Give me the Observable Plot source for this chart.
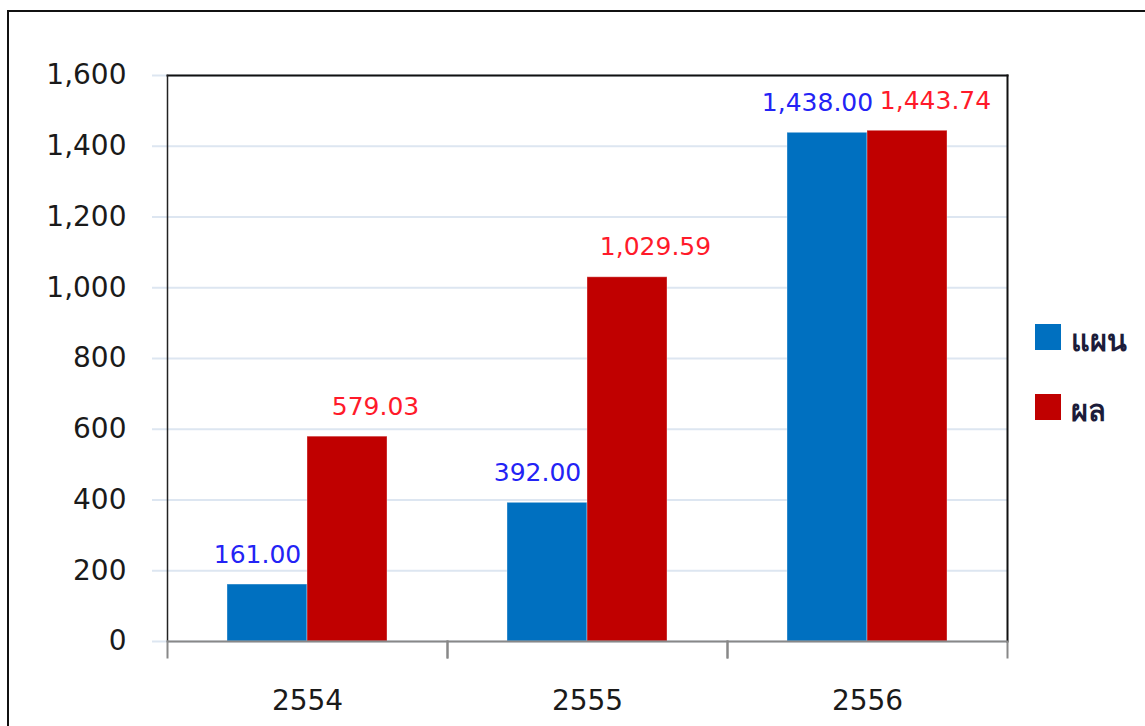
<!DOCTYPE html>
<html>
<head>
<meta charset="utf-8">
<script src="https://cdn.jsdelivr.net/npm/d3@7"></script>
<script src="https://cdn.jsdelivr.net/npm/@observablehq/plot@0.6"></script>
<style>
  body { margin: 0; background: #fff; font-family: "DejaVu Sans", sans-serif; }
  #wrap { position: relative; width: 1145px; height: 726px; overflow: hidden; background: #fff; }
  #border { position: absolute; left: 7px; top: 10px; width: 1300px; height: 900px; border: 2px solid #111; box-sizing: border-box; }
  #chart { position: absolute; left: 0; top: 0; }
  #legend { position: absolute; left: 1035px; top: 324px; }
  .item { display: flex; align-items: center; height: 26px; margin-bottom: 44px; }
  .swatch { width: 26px; height: 26px; margin-right: 10px; }
  .name { font-size: 29px; font-weight: bold; color: #1c1c3a; position: relative; top: 4px; }
</style>
</head>
<body>
<div id="wrap">
  <div id="border"></div>
  <div id="chart"></div>
  <div id="legend"></div>
</div>
<script>
// Budget plan vs. actual, by fiscal year
const years = ["2554", "2555", "2556"];
const series = ["แผน", "ผล"];
const plan = [161.00, 392.00, 1438.00];
const actual = [579.03, 1029.59, 1443.74];
const barColors = ["#0070C0", "#C00000"];
const labelColors = ["#2323f5", "#ff1a2a"];
const yTicks = [0, 200, 400, 600, 800, 1000, 1200, 1400, 1600];

const rows = years.flatMap((year, i) => [
  {year, series: series[0], value: plan[i]},
  {year, series: series[1], value: actual[i]}
]);
const planRows = rows.filter(d => d.series === series[0]);
const actualRows = rows.filter(d => d.series === series[1]);
const fmt = d3.format(",.2f");

const chart = Plot.plot({
  width: 1145,
  height: 726,
  marginLeft: 167,
  marginRight: 138,
  marginTop: 75,
  marginBottom: 85,
  style: {fontFamily: "'DejaVu Sans', sans-serif", fontSize: "28px", color: "#1a1a1a", background: "transparent"},
  fx: {domain: years, padding: 0, label: null},
  x: {domain: series, paddingInner: 0, paddingOuter: 0.75, axis: null},
  y: {domain: [0, 1600], label: null},
  color: {domain: series, range: barColors},
  marks: [
    Plot.gridY(yTicks, {stroke: "#dde6f1", strokeOpacity: 1, strokeWidth: 2}),
    Plot.axisY(yTicks, {tickSize: 15, tickPadding: 26, stroke: "#dde6f1", strokeWidth: 2, fontSize: 28, tickFormat: d3.format(","), label: null}),
    Plot.axisFx({anchor: "bottom", tickSize: 0, tickPadding: 49, fontSize: 28, label: null}),
    Plot.barY(rows, {fx: "year", x: "series", y: "value", fill: "series", stroke: "#ffffff", strokeOpacity: 0.35, strokeWidth: 1}),
    Plot.frame({facet: "super", anchor: "top", stroke: "#111", strokeWidth: 2}),
    Plot.frame({facet: "super", anchor: "left", stroke: "#222", strokeWidth: 1.5}),
    Plot.frame({facet: "super", anchor: "right", stroke: "#111", strokeWidth: 2}),
    Plot.ruleY([0], {stroke: "#888", strokeWidth: 2}),
    Plot.frame({anchor: "left", insetTop: 566, insetBottom: -16, stroke: "#888", strokeWidth: 2}),
    Plot.frame({anchor: "right", insetTop: 566, insetBottom: -16, stroke: "#888", strokeWidth: 2}),
    Plot.text(planRows, {fx: "year", x: "series", y: "value", text: d => fmt(d.value), fill: labelColors[0], fontSize: 25, lineAnchor: "bottom", dy: -22, dx: -10}),
    Plot.text(actualRows, {fx: "year", x: "series", y: "value", text: d => fmt(d.value), fill: labelColors[1], fontSize: 25, lineAnchor: "bottom", dy: -22, dx: 28})
  ]
});
document.getElementById("chart").appendChild(chart);

// Legend
const legend = document.getElementById("legend");
series.forEach((s, i) => {
  const item = document.createElement("div");
  item.className = "item";
  const sw = document.createElement("div");
  sw.className = "swatch";
  sw.style.background = barColors[i];
  const name = document.createElement("span");
  name.className = "name";
  name.textContent = s;
  item.appendChild(sw);
  item.appendChild(name);
  legend.appendChild(item);
});
</script>
</body>
</html>
